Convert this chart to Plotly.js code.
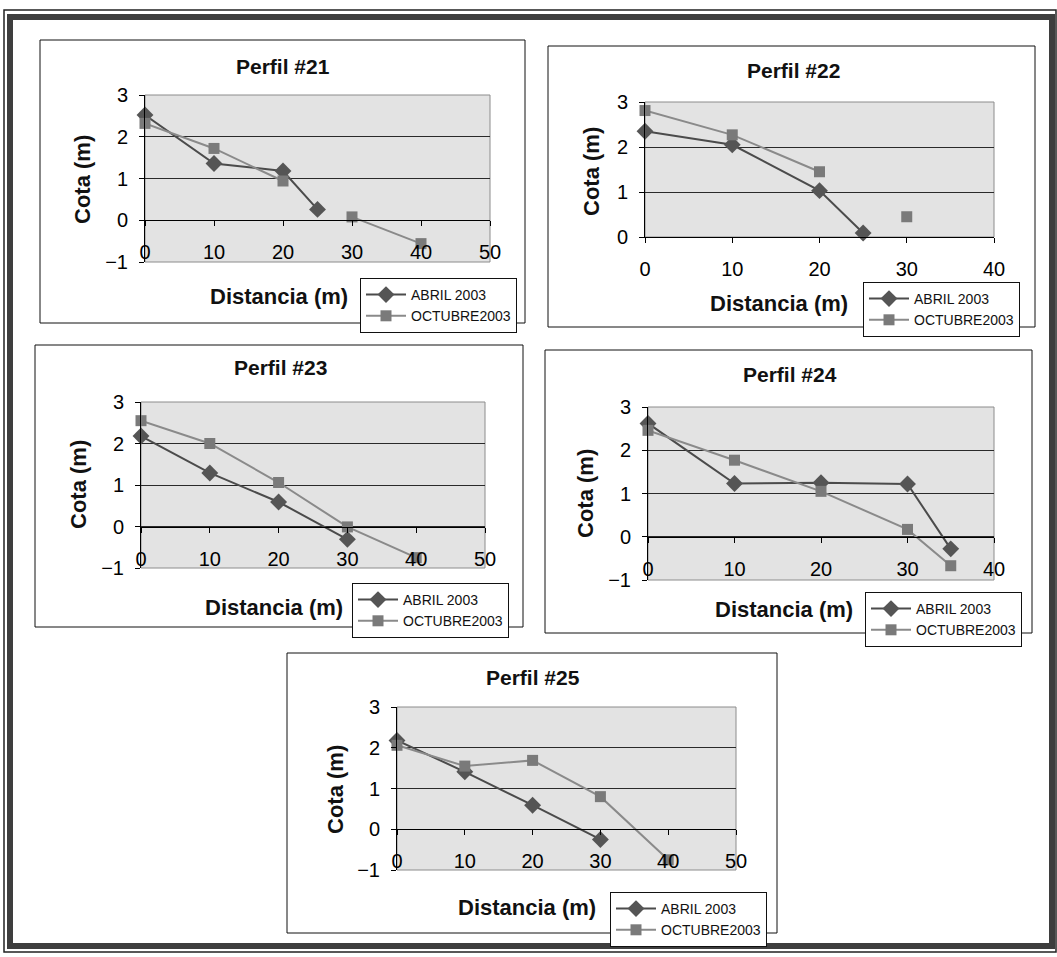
<!DOCTYPE html>
<html>
<head>
<meta charset="utf-8">
<script src="https://cdn.plot.ly/plotly-3.0.1.min.js"></script>
<style>html,body{margin:0;padding:0;background:#fff;}#chart{width:1057px;height:957px;}</style>
</head>
<body>
<div id="chart"></div>
<script>
// ---------- data ----------
const titulos = ['Perfil #21', 'Perfil #22', 'Perfil #23', 'Perfil #24', 'Perfil #25'];
const serieNombres = ['ABRIL 2003', 'OCTUBRE2003'];

const x21 = [0, 10, 20, 25, 30, 40];
const abril21 = [2.52, 1.36, 1.18, 0.26, null, null];
const octubre21 = [2.32, 1.72, 0.94, null, 0.08, -0.56];

const x22 = [0, 10, 20, 25, 30];
const abril22 = [2.35, 2.05, 1.03, 0.09, null];
const octubre22 = [2.81, 2.27, 1.45, null, 0.45];

const x23 = [0, 10, 20, 30, 40];
const abril23 = [2.18, 1.29, 0.59, -0.31, null];
const octubre23 = [2.55, 2.00, 1.06, -0.01, -0.75];

const x24 = [0, 10, 20, 30, 35];
const abril24 = [2.62, 1.23, 1.25, 1.22, -0.28];
const octubre24 = [2.46, 1.77, 1.05, 0.17, -0.67];

const x25 = [0, 10, 20, 30, 40];
const abril25 = [2.18, 1.41, 0.59, -0.25, null];
const octubre25 = [2.06, 1.55, 1.69, 0.80, -0.75];

const xMax = [50, 40, 50, 40, 50];
const yMin = [-1, 0, -1, -1, -1];
const yMax = [3, 3, 3, 3, 3];
const xTitle = 'Distancia (m)';
const yTitle = 'Cota (m)';

// ---------- layout geometry (pixels) ----------
const W = 1057, H = 957;
const fx = p => p / W;
const fy = p => 1 - p / H;

const geom = [
  {box: [40, 40, 525, 323], plot: [145, 95, 490, 262], t: [283, 66], yt: [83, 180], xt: [279, 297], leg: [360, 278]},
  {box: [548, 46, 1035, 327], plot: [645, 102, 994, 237], t: [793, 70], yt: [591, 172], xt: [779, 303], leg: [863, 282]},
  {box: [35, 345, 523, 627], plot: [141, 402, 485, 568], t: [280, 368], yt: [78, 485], xt: [274, 607], leg: [352, 583]},
  {box: [545, 350, 1032, 633], plot: [648, 407, 994, 580], t: [790, 375], yt: [586, 494], xt: [784, 609], leg: [865, 592]},
  {box: [287, 653, 777, 933], plot: [397, 707, 736, 870], t: [533, 677], yt: [335, 790], xt: [527, 907], leg: [610, 892]}
];

const xs = [x21, x22, x23, x24, x25];
const abriles = [abril21, abril22, abril23, abril24, abril25];
const octubres = [octubre21, octubre22, octubre23, octubre24, octubre25];

const FONT = 'Liberation Sans, Arial, sans-serif';
const data = [];
const shapes = [];
const annotations = [];
const layout = {
  width: W, height: H,
  margin: {l: 0, r: 0, t: 0, b: 0, pad: 0},
  paper_bgcolor: '#ffffff',
  plot_bgcolor: 'rgba(0,0,0,0)',
  showlegend: true,
  font: {family: FONT, color: '#111'}
};

// outer frame
shapes.push({type: 'rect', xref: 'paper', yref: 'paper', x0: fx(4), x1: fx(1056), y0: fy(952), y1: fy(10),
  line: {color: '#222', width: 1.5}, layer: 'below'});
shapes.push({type: 'rect', xref: 'paper', yref: 'paper', x0: fx(10), x1: fx(1052), y0: fy(946), y1: fy(17),
  line: {color: '#3e3e3e', width: 6}, layer: 'below'});

for (let i = 0; i < 5; i++) {
  const g = geom[i];
  const s = i === 0 ? '' : String(i + 1);
  const xa = 'x' + s, ya = 'y' + s;
  const lg = 'legend' + s;

  // chart box
  shapes.push({type: 'rect', xref: 'paper', yref: 'paper',
    x0: fx(g.box[0]), x1: fx(g.box[2]), y0: fy(g.box[3]), y1: fy(g.box[1]),
    line: {color: '#111', width: 1}, fillcolor: '#ffffff', layer: 'below'});
  // plot area
  shapes.push({type: 'rect', xref: 'paper', yref: 'paper',
    x0: fx(g.plot[0]), x1: fx(g.plot[2]), y0: fy(g.plot[3]), y1: fy(g.plot[1]),
    line: {color: '#8c8c8c', width: 1}, fillcolor: '#e3e3e3', layer: 'below'});

  const yd = [fy(g.plot[3]), fy(g.plot[1])];
  const zeroPos = yd[0] + (0 - yMin[i]) / (yMax[i] - yMin[i]) * (yd[1] - yd[0]);

  layout['xaxis' + s] = {
    domain: [fx(g.plot[0]), fx(g.plot[2])],
    range: [0, xMax[i]], tickmode: 'linear', tick0: 0, dtick: 10,
    anchor: yMin[i] < 0 ? 'free' : ya,
    position: yMin[i] < 0 ? zeroPos : undefined,
    showline: true, linecolor: '#000', linewidth: 1,
    ticks: 'outside', ticklen: 5, tickcolor: '#000', tickwidth: 1,
    showgrid: false, zeroline: false,
    tickfont: {family: FONT, size: 20, color: '#000'},
    ticklabelstandoff: 9, fixedrange: true
  };
  layout['yaxis' + s] = {
    domain: yd,
    range: [yMin[i], yMax[i]], tickmode: 'linear', tick0: 0, dtick: 1,
    anchor: xa,
    showline: true, linecolor: '#000', linewidth: 1,
    ticks: 'outside', ticklen: 5, tickcolor: '#000', tickwidth: 1,
    showgrid: true, gridcolor: '#2a2a2a', gridwidth: 1,
    zeroline: false,
    tickfont: {family: FONT, size: 20, color: '#000'},
    ticklabelstandoff: 7, fixedrange: true
  };

  layout[lg] = {
    x: fx(g.leg[0]), y: fy(g.leg[1]), xanchor: 'left', yanchor: 'top',
    xref: 'paper', yref: 'paper',
    bgcolor: '#ffffff', bordercolor: '#111', borderwidth: 1,
    font: {family: FONT, size: 14, color: '#111'},
    tracegroupgap: 0, itemwidth: 40
  };

  data.push({
    type: 'scatter', mode: 'lines+markers', x: xs[i], y: abriles[i],
    xaxis: xa, yaxis: ya, legend: lg, name: serieNombres[0], cliponaxis: false,
    line: {color: '#4b4b4b', width: 2},
    marker: {symbol: 'diamond', size: 13, color: '#555555'}
  });
  data.push({
    type: 'scatter', mode: 'lines+markers', x: xs[i], y: octubres[i],
    xaxis: xa, yaxis: ya, legend: lg, name: serieNombres[1], cliponaxis: false,
    line: {color: '#8a8a8a', width: 2},
    marker: {symbol: 'square', size: 11, color: '#7a7a7a'}
  });

  annotations.push({xref: 'paper', yref: 'paper', x: fx(g.t[0]), y: fy(g.t[1]),
    xanchor: 'center', yanchor: 'middle', showarrow: false, text: '<b>' + titulos[i] + '</b>',
    font: {family: FONT, size: 21, color: '#111'}});
  annotations.push({xref: 'paper', yref: 'paper', x: fx(g.xt[0]), y: fy(g.xt[1]),
    xanchor: 'center', yanchor: 'middle', showarrow: false, text: '<b>' + xTitle + '</b>',
    font: {family: FONT, size: 22, color: '#111'}});
  annotations.push({xref: 'paper', yref: 'paper', x: fx(g.yt[0]), y: fy(g.yt[1]),
    xanchor: 'center', yanchor: 'middle', showarrow: false, textangle: -90, text: '<b>' + yTitle + '</b>',
    font: {family: FONT, size: 22, color: '#111'}});
}

layout.shapes = shapes;
layout.annotations = annotations;

Plotly.newPlot('chart', data, layout, {displayModeBar: false, staticPlot: true});
</script>
</body>
</html>
